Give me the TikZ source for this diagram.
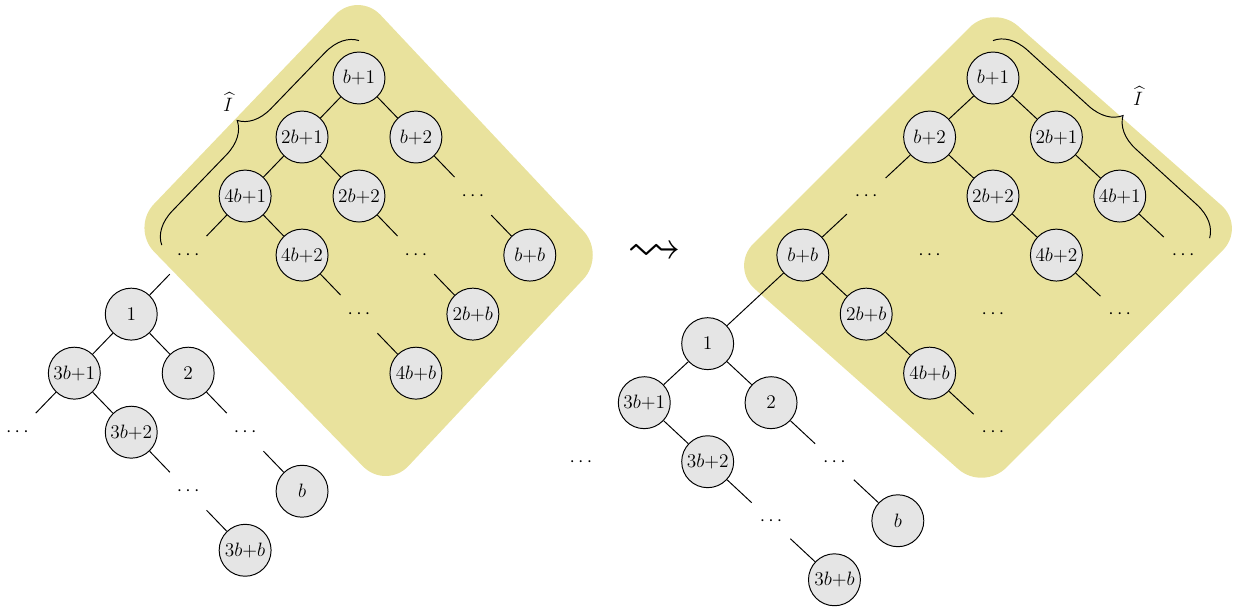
\documentclass[tikz,border=0pt]{standalone}
\usepackage{amssymb}
\usepackage[usenames]{xcolor}
\usepackage{tikz}
\usetikzlibrary{positioning,decorations.pathreplacing}

\definecolor{setyellow}{RGB}{233,226,157}

\begin{document}
\begin{tikzpicture}[x=0.62pt,y=-0.62pt,auto,on grid,
                    node distance=36.6pt and 35.3pt,semithick]
\tikzstyle{every node}=[font=\large]
\tikzstyle{vertex}=[circle,draw,fill=black!10,minimum size=32.2pt,inner sep=0pt]
\tikzstyle{dotsnode}=[circle,minimum size=32.2pt,inner sep=0pt]
\tikzstyle{hull}=[fill=setyellow,rounded corners=20.5pt]
\tikzstyle{hatbrace}=[decorate,decoration={brace,amplitude=20pt}]

\useasboundingbox (0,0) rectangle (1234,607);

% the two highlighted regions
\fill[hull] (244.5,109.5) -- (358,-9) -- (606,255) -- (386,490) -- (131,228) -- cycle;
\fill[hull] (861.5,135.5) -- (993,4) -- (1246,227) -- (983,491) -- (730,267) -- cycle;

% left tree
\node[vertex] (ROOT) at (359,78) {$b{+}1$};
\node[vertex] (L) [below left=of ROOT] {$2b{+}1$};
\node[vertex] (R) [below right=of ROOT] {$b{+}2$};
\node[vertex] (LL) [below left=of L] {$4b{+}1$};
\node[vertex] (LR) [below right=of L] {$2b{+}2$};
\node[dotsnode] (RR) [below right=of R] {$\cdots$};
\node[dotsnode] (LLL) [below left=of LL] {$\cdots$};
\node[vertex] (LLR) [below right=of LL] {$4b{+}2$};
\node[dotsnode] (LRR) [below right=of LR] {$\cdots$};
\node[vertex] (RRR) [below right=of RR] {$b{+}b$};
\node[vertex] (LLLL) [below left=of LLL] {$1$};
\node[dotsnode] (LLRR) [below right=of LLR] {$\cdots$};
\node[vertex] (LRRR) [below right=of LRR] {$2b{+}b$};
\node[vertex] (LLLLL) [below left=of LLLL] {$3b{+}1$};
\node[vertex] (LLLLR) [below right=of LLLL] {$2$};
\node[vertex] (LLRRR) [below right=of LLRR] {$4b{+}b$};
\node[dotsnode] (LLLLLL) [below left=of LLLLL] {$\cdots$};
\node[vertex] (LLLLLR) [below right=of LLLLL] {$3b{+}2$};
\node[dotsnode] (LLLLRR) [below right=of LLLLR] {$\cdots$};
\node[dotsnode] (LLLLLRR) [below right=of LLLLLR] {$\cdots$};
\node[vertex] (LLLLRRR) [below right=of LLLLRR] {$b$};
\node[vertex] (LLLLLRRR) [below right=of LLLLLRR] {$3b{+}b$};

\path (ROOT) edge (L) edge (R)
      (L) edge (LL) edge (LR)
      (R) edge (RR)
      (LL) edge (LLL) edge (LLR)
      (LR) edge (LRR)
      (RR) edge (RRR)
      (LLL) edge (LLLL)
      (LLR) edge (LLRR)
      (LRR) edge (LRRR)
      (LLLL) edge (LLLLL) edge (LLLLR)
      (LLRR) edge (LLRRR)
      (LLLLL) edge (LLLLLL) edge (LLLLLR)
      (LLLLR) edge (LLLLRR)
      (LLLLLR) edge (LLLLLRR)
      (LLLLRR) edge (LLLLRRR)
      (LLLLLRR) edge (LLLLLRRR);

\coordinate (BL) at ([yshift=6.2pt]LLL.west);
\coordinate (BR) at ([yshift=6.8pt]ROOT.north);
\draw[hatbrace] (BL) -- (BR);
\node (HATL) at (228,102) {$\widehat{I}$};

\node[scale=2.8] (TO) at (654.5,253) {$\leadsto$};

% right tree
\begin{scope}[node distance=36.6pt and 39.3pt]
\node[vertex] (NROOT) at (993,78) {$b{+}1$};
\node[vertex] (NL) [below left=of NROOT] {$b{+}2$};
\node[vertex] (NR) [below right=of NROOT] {$2b{+}1$};
\node[dotsnode] (NLL) [below left=of NL] {$\cdots$};
\node[vertex] (NLR) [below right=of NL] {$2b{+}2$};
\node[vertex] (NRR) [below right=of NR] {$4b{+}1$};
\node[vertex] (NLLL) [below left=of NLL] {$b{+}b$};
\node[dotsnode] (NLLR) [below right=of NLL] {$\cdots$};
\node[vertex] (NLRR) [below right=of NLR] {$4b{+}2$};
\node[dotsnode] (NRRR) [below right=of NRR] {$\cdots$};
\node[vertex] (NLLLR) [below right=of NLLL] {$2b{+}b$};
\node[dotsnode] (NLLRR) [below right=of NLLR] {$\cdots$};
\node[dotsnode] (NLRRR) [below right=of NLRR] {$\cdots$};
\node[vertex] (NLLLRR) [below right=of NLLLR] {$4b{+}b$};
\node[dotsnode] (NLLLRRR) [below right=of NLLLRR] {$\cdots$};
\node[vertex] (NLLLL) [below left=54.9pt and 59pt of NLLL] {$1$};
\node[vertex] (NLLLLL) [below left=of NLLLL] {$3b{+}1$};
\node[vertex] (NLLLLR) [below right=of NLLLL] {$2$};
\node[dotsnode] (NLLLLLL) [below left=of NLLLLL] {$\cdots$};
\node[vertex] (NLLLLLR) [below right=of NLLLLL] {$3b{+}2$};
\node[dotsnode] (NLLLLRR) [below right=of NLLLLR] {$\cdots$};
\node[dotsnode] (NLLLLLRR) [below right=of NLLLLLR] {$\cdots$};
\node[vertex] (NLLLLRRR) [below right=of NLLLLRR] {$b$};
\node[vertex] (NLLLLLRRR) [below right=of NLLLLLRR] {$3b{+}b$};
\end{scope}

\path (NROOT) edge (NL) edge (NR)
      (NL) edge (NLL) edge (NLR)
      (NR) edge (NRR)
      (NLL) edge (NLLL)
      (NLR) edge (NLRR)
      (NRR) edge (NRRR)
      (NLLL) edge (NLLLL) edge (NLLLR)
      (NLRR) edge (NLRRR)
      (NLLLR) edge (NLLLRR)
      (NLLLRR) edge (NLLLRRR)
      (NLLLL) edge (NLLLLL) edge (NLLLLR)
      (NLLLLL) edge (NLLLLLR)
      (NLLLLR) edge (NLLLLRR)
      (NLLLLLR) edge (NLLLLLRR)
      (NLLLLRR) edge (NLLLLRRR)
      (NLLLLLRR) edge (NLLLLLRRR);

\coordinate (NBL) at ([yshift=6.8pt]NROOT.north);
\coordinate (NBR) at ([yshift=10.5pt]NRRR.east);
\draw[hatbrace] (NBL) -- (NBR);
\node (HATR) at (1138,96) {$\widehat{I}$};
\end{tikzpicture}
\end{document}
